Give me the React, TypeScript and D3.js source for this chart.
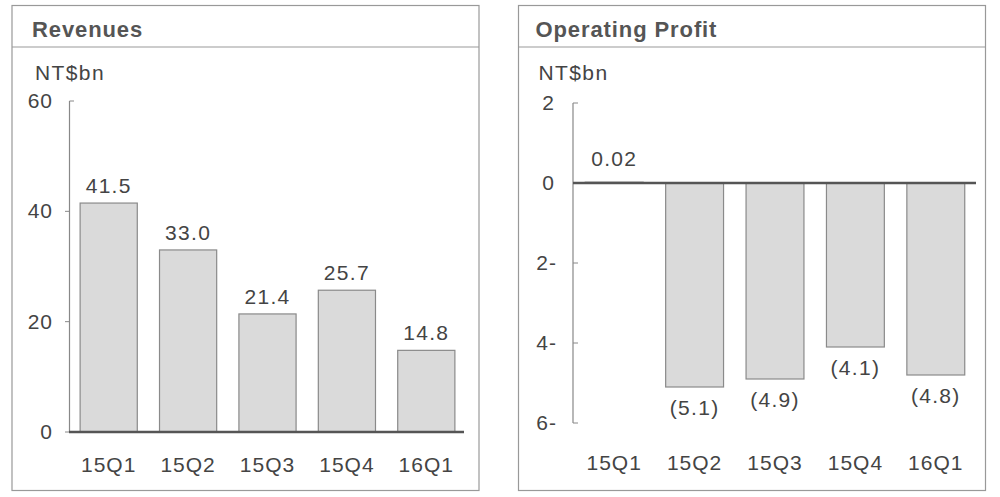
import * as d3 from 'd3';

const quarters = ['15Q1', '15Q2', '15Q3', '15Q4', '16Q1'];
const revenues = [41.5, 33.0, 21.4, 25.7, 14.8];
const revenueLabels = ['41.5', '33.0', '21.4', '25.7', '14.8'];
const revenueTicks = [0, 20, 40, 60];
const profits = [0.02, -5.1, -4.9, -4.1, -4.8];
const profitLabels = ['0.02', '(5.1)', '(4.9)', '(4.1)', '(4.8)'];
const profitTicks = [2, 0, -2, -4, -6];

const FONT = '"Liberation Sans", Arial, sans-serif';
const TEXT = '#444';

const Panel = ({ x, w, title, tx, ux }: { x: number; w: number; title: string; tx: number; ux: number }) => (
  <g>
    <rect x={x} y={5.5} width={w} height={485} fill="#fff" stroke="#999" strokeWidth={1.2} />
    <line x1={x} x2={x + w} y1={47} y2={47} stroke="#999" strokeWidth={1.2} />
    <text x={x + tx} y={37} fontSize={22} fontWeight="bold" fill="#555" letterSpacing={0.9}>{title}</text>
    <text x={x + ux} y={80} fontSize={21} fill={TEXT} letterSpacing={1.4}>NT$bn</text>
  </g>
);

export default function App() {
  // revenues
  const yL = d3.scaleLinear().domain([0, 60]).range([432, 101]);
  const xL = d3.scaleBand().domain(quarters).range([69, 466]).paddingInner(0.28).paddingOuter(0.14);
  // operating profit
  const yR = d3.scaleLinear().domain([-6, 2]).range([423, 103]);
  const xR = d3.scaleBand().domain(quarters).range([574, 976]).paddingInner(0.28).paddingOuter(0.14);

  return (
    <svg width={1000} height={497} style={{ position: 'absolute', left: 0, top: 0, fontFamily: FONT }}>
      <Panel x={12} w={467} title="Revenues" tx={20} ux={23} />
      <Panel x={518.5} w={467} title="Operating Profit" tx={17} ux={20} />

      {/* left chart */}
      <line x1={69.5} x2={69.5} y1={yL(60)} y2={yL(0)} stroke="#888" strokeWidth={1.2} />
      {revenueTicks.map(t => (
        <g key={t}>
          {t === 60
            ? <line x1={69.5} x2={74} y1={yL(t)} y2={yL(t)} stroke="#888" />
            : <line x1={65} x2={69.5} y1={yL(t)} y2={yL(t)} stroke="#888" />}
          <text x={53} y={yL(t) + 7} textAnchor="end" fontSize={21} fill={TEXT} letterSpacing={1}>{t}</text>
        </g>
      ))}
      {quarters.map((q, i) => (
        <g key={q}>
          <rect x={xL(q)} y={yL(revenues[i])} width={xL.bandwidth()} height={yL(0) - yL(revenues[i])}
            fill="#dadada" stroke="#8a8a8a" strokeWidth={1.2} />
          <text x={xL(q)! + xL.bandwidth() / 2} y={yL(revenues[i]) - 10} textAnchor="middle" fontSize={21}
            fill={TEXT} letterSpacing={1.3}>{revenueLabels[i]}</text>
          <text x={xL(q)! + xL.bandwidth() / 2} y={472} textAnchor="middle" fontSize={21} fill={TEXT}
            letterSpacing={1}>{q}</text>
        </g>
      ))}
      <line x1={69} x2={464} y1={yL(0)} y2={yL(0)} stroke="#555" strokeWidth={2.5} />

      {/* right chart */}
      <line x1={573} x2={573} y1={yR(2)} y2={yR(-6)} stroke="#888" strokeWidth={1.2} />
      {profitTicks.map(t => (
        <g key={t}>
          <line x1={573} x2={578} y1={yR(t)} y2={yR(t)} stroke="#888" />
          <text x={t < 0 ? 557 : 555} y={yR(t) + 7} textAnchor="end" fontSize={21} fill={TEXT}
            letterSpacing={1}>{t < 0 ? `${-t}-` : t}</text>
        </g>
      ))}
      {quarters.map((q, i) => {
        const v = profits[i];
        const top = yR(Math.max(v, 0));
        const bottom = yR(Math.min(v, 0));
        const cx = xR(q)! + xR.bandwidth() / 2;
        return (
          <g key={q}>
            <rect x={xR(q)} y={top} width={xR.bandwidth()} height={bottom - top}
              fill="#dadada" stroke="#8a8a8a" strokeWidth={1.2} />
            <text x={cx} y={v >= 0 ? top - 16 : bottom + 28} textAnchor="middle" fontSize={21}
              fill={TEXT} letterSpacing={1.3}>{profitLabels[i]}</text>
            <text x={cx} y={470} textAnchor="middle" fontSize={21} fill={TEXT} letterSpacing={1}>{q}</text>
          </g>
        );
      })}
      <line x1={573} x2={976} y1={yR(0)} y2={yR(0)} stroke="#555" strokeWidth={2.5} />
    </svg>
  );
}
